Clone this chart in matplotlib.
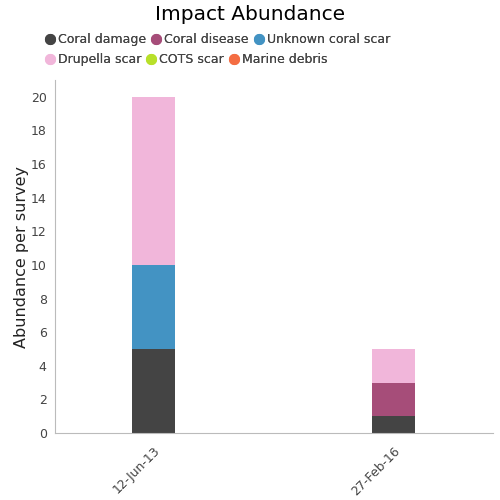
import numpy as np
import matplotlib.pyplot as plt
from matplotlib.lines import Line2D

dates = ['12-Jun-13', '27-Feb-16']
series = ['Coral damage', 'Coral disease', 'Unknown coral scar',
          'Drupella scar', 'COTS scar', 'Marine debris']
coral_damage = [5, 1]
coral_disease = [0, 2]
unknown_scar = [5, 0]
drupella_scar = [10, 2]
cots_scar = [0, 0]
marine_debris = [0, 0]
colors = ['#444444', '#a64d79', '#4393c3', '#f1b6da', '#b8e02a', '#f46d43']

values = [coral_damage, coral_disease, unknown_scar,
          drupella_scar, cots_scar, marine_debris]

fig = plt.figure(figsize=(5, 5), dpi=100)
ax = fig.add_axes([0.11, 0.134, 0.876, 0.706])

x = np.arange(len(dates))
bottom = np.zeros(len(dates))
for vals, col in zip(values, colors):
    vals = np.array(vals, dtype=float)
    ax.bar(x, vals, width=0.18, bottom=bottom, color=col)
    bottom += vals

ax.set_xlim(-0.41, 1.415)
ax.set_ylim(0, 21)
ax.set_yticks(range(0, 21, 2))
ax.set_xticks(x)
ax.set_xticklabels(dates, rotation=45, ha='right', rotation_mode='anchor')
ax.tick_params(axis='both', length=0, labelsize=9, colors='#444444', pad=6)
ax.tick_params(axis='x', pad=8)
for s in ['top', 'right']:
    ax.spines[s].set_visible(False)
for s in ['left', 'bottom']:
    ax.spines[s].set_color('#bbbbbb')
ax.set_ylabel('Abundance per survey', fontsize=11.5, color='#222222', labelpad=1)

fig.suptitle('Impact Abundance', y=0.99, fontsize=14.5)

handles = [Line2D([], [], marker='o', ls='', color=c, markersize=7) for c in colors]
for row, ypos in [(0, 0.921), (1, 0.881)]:
    leg = fig.legend(handles[row * 3:row * 3 + 3], series[row * 3:row * 3 + 3],
                     loc='center left', bbox_to_anchor=(0.077, ypos), ncol=3,
                     frameon=False, fontsize=9, handletextpad=0.15,
                     columnspacing=0.3, handlelength=1.0, borderaxespad=0)
    for t in leg.get_texts():
        t.set_color('#444444')
    fig.add_artist(leg)

fig.savefig('out.png', dpi=100)
